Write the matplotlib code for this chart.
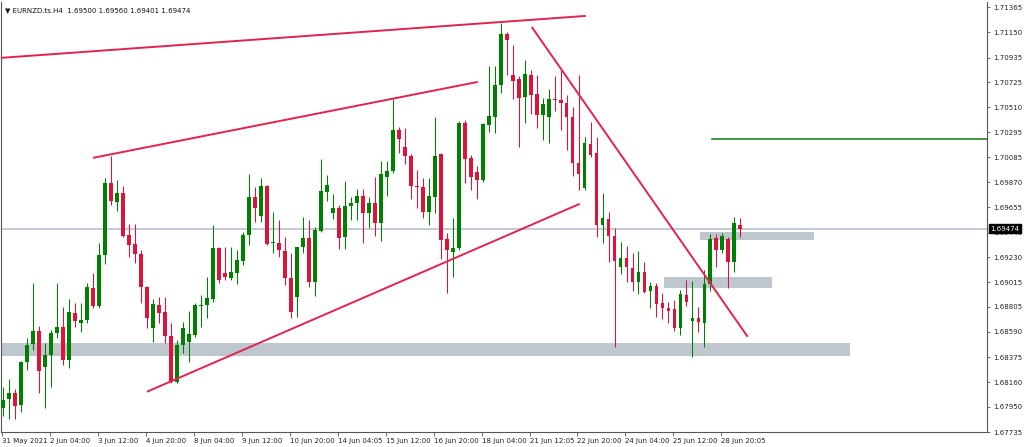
import numpy as np
import matplotlib
matplotlib.use("Agg")
import matplotlib.pyplot as plt
import matplotlib.transforms as mtransforms

# EURNZD H4 candles
opens = [1.67943, 1.68019, 1.68071, 1.67968, 1.68335, 1.68489, 1.68600, 1.68293, 1.68395, 1.68583,
         1.68634, 1.68353, 1.68754, 1.68669, 1.68694, 1.68968, 1.68814, 1.69249, 1.69864, 1.69702,
         1.69779, 1.69420, 1.69343, 1.69258, 1.68976, 1.68626, 1.68822, 1.68763, 1.68558, 1.68165,
         1.68481, 1.68506, 1.68566, 1.68814, 1.68822, 1.68874, 1.69309, 1.69096, 1.69053, 1.69096,
         1.69198, 1.69420, 1.69745, 1.69583, 1.69839, 1.69352, 1.69352, 1.69284, 1.69053, 1.68891,
         1.69318, 1.69395, 1.69019, 1.69454, 1.69787, 1.69608, 1.69651, 1.69403, 1.69668, 1.69694,
         1.69753, 1.69608, 1.69694, 1.69523, 1.69916, 1.69967, 1.70317, 1.70172, 1.70095, 1.69839,
         1.69830, 1.69617, 1.69745, 1.70112, 1.69386, 1.69275, 1.69309, 1.70377, 1.70078, 1.69958,
         1.69890, 1.70360, 1.70428, 1.70701, 1.71137, 1.70787, 1.70753, 1.70599, 1.70787, 1.70624,
         1.70445, 1.70428, 1.70582, 1.70573, 1.70548, 1.70428, 1.70035, 1.69822, 1.70197, 1.70121,
         1.69506, 1.69557, 1.69412, 1.69147, 1.69224, 1.69138, 1.69019, 1.69104, 1.68942, 1.68985,
         1.68839, 1.68797, 1.68788, 1.68626, 1.68908, 1.68686, 1.68711, 1.68669, 1.69002, 1.69395,
         1.69292, 1.69386, 1.69190, 1.69500]
highs = [1.68122, 1.68190, 1.68105, 1.68344, 1.68541, 1.69010, 1.68643, 1.68498, 1.68609, 1.69010,
         1.68805, 1.68874, 1.68839, 1.68839, 1.69010, 1.69096, 1.69352, 1.69907, 1.70095, 1.69890,
         1.69839, 1.69514, 1.69514, 1.69292, 1.68985, 1.68874, 1.68891, 1.68891, 1.68669, 1.68523,
         1.68677, 1.68771, 1.68839, 1.68908, 1.69061, 1.69506, 1.69318, 1.69318, 1.69318, 1.69292,
         1.69446, 1.69941, 1.69830, 1.69907, 1.69847, 1.69617, 1.69548, 1.69403, 1.69266, 1.69320,
         1.69574, 1.69548, 1.69489, 1.70069, 1.69933, 1.69770, 1.69676, 1.69881, 1.69745, 1.69813,
         1.69813, 1.69745, 1.69916, 1.70052, 1.70052, 1.70582, 1.70343, 1.70334, 1.70112, 1.69975,
         1.69907, 1.69907, 1.70428, 1.70121, 1.69437, 1.69565, 1.70394, 1.70402, 1.70103, 1.70010,
         1.70377, 1.70864, 1.70864, 1.71231, 1.71154, 1.71043, 1.70778, 1.70915, 1.70829, 1.70787,
         1.70590, 1.70667, 1.70778, 1.70829, 1.70616, 1.70513, 1.70787, 1.70257, 1.70385, 1.70257,
         1.69779, 1.69617, 1.69480, 1.69360, 1.69326, 1.69266, 1.69284, 1.69190, 1.69019, 1.69010,
         1.68925, 1.68848, 1.68865, 1.68950, 1.69036, 1.69027, 1.68805, 1.69121, 1.69429, 1.69429,
         1.69437, 1.69403, 1.69574, 1.69560]
lows = [1.67874, 1.67849, 1.67849, 1.67908, 1.68267, 1.68438, 1.68071, 1.67943, 1.68122, 1.68541,
        1.68310, 1.68284, 1.68634, 1.68592, 1.68669, 1.68797, 1.68797, 1.69172, 1.69676, 1.69625,
        1.69403, 1.69232, 1.69181, 1.68839, 1.68626, 1.68506, 1.68669, 1.68498, 1.68156, 1.68156,
        1.68412, 1.68335, 1.68549, 1.68634, 1.68711, 1.68848, 1.69010, 1.69036, 1.69036, 1.69002,
        1.69164, 1.69335, 1.69531, 1.69531, 1.69335, 1.69266, 1.69232, 1.68993, 1.68711, 1.68720,
        1.69266, 1.68976, 1.68899, 1.69446, 1.69711, 1.69557, 1.69301, 1.69301, 1.69548, 1.69548,
        1.69352, 1.69480, 1.69412, 1.69369, 1.69753, 1.69950, 1.70121, 1.70027, 1.69728, 1.69651,
        1.69565, 1.69506, 1.69608, 1.69215, 1.68925, 1.69061, 1.69292, 1.69864, 1.69805, 1.69728,
        1.69873, 1.70300, 1.70291, 1.70633, 1.70787, 1.70582, 1.70172, 1.70377, 1.70454, 1.70334,
        1.70232, 1.70206, 1.70479, 1.70317, 1.70146, 1.69924, 1.69805, 1.69805, 1.70086, 1.69403,
        1.69352, 1.69190, 1.68464, 1.69087, 1.69019, 1.68942, 1.68916, 1.68925, 1.68797, 1.68720,
        1.68703, 1.68669, 1.68600, 1.68566, 1.68814, 1.68378, 1.68592, 1.68464, 1.68942, 1.69147,
        1.69266, 1.68968, 1.69104, 1.69401]
closes = [1.68011, 1.68071, 1.67960, 1.68335, 1.68481, 1.68600, 1.68259, 1.68395, 1.68583, 1.68634,
          1.68353, 1.68763, 1.68686, 1.68694, 1.68976, 1.68814, 1.69249, 1.69864, 1.69711, 1.69779,
          1.69412, 1.69335, 1.69258, 1.68976, 1.68711, 1.68831, 1.68754, 1.68558, 1.68165, 1.68481,
          1.68626, 1.68575, 1.68822, 1.68822, 1.68882, 1.69309, 1.69036, 1.69061, 1.69104, 1.69207,
          1.69420, 1.69745, 1.69651, 1.69839, 1.69343, 1.69355, 1.69292, 1.69053, 1.68763, 1.69318,
          1.69395, 1.69019, 1.69463, 1.69796, 1.69847, 1.69651, 1.69395, 1.69668, 1.69694, 1.69753,
          1.69608, 1.69694, 1.69523, 1.69941, 1.69967, 1.70317, 1.70240, 1.70095, 1.69839, 1.69830,
          1.69617, 1.69753, 1.70095, 1.69378, 1.69292, 1.69309, 1.70377, 1.70069, 1.69916, 1.69890,
          1.70368, 1.70437, 1.70701, 1.71137, 1.71086, 1.70736, 1.70590, 1.70795, 1.70616, 1.70445,
          1.70539, 1.70582, 1.70573, 1.70548, 1.70428, 1.70035, 1.69941, 1.70206, 1.70103, 1.69506,
          1.69565, 1.69412, 1.69198, 1.69224, 1.69147, 1.69019, 1.69104, 1.68933, 1.68985, 1.68831,
          1.68797, 1.68771, 1.68626, 1.68916, 1.68848, 1.68711, 1.68677, 1.69002, 1.69386, 1.69292,
          1.69412, 1.69190, 1.69523, 1.69474]

time_labels = ["31 May 2021", "2 Jun 04:00", "3 Jun 12:00", "4 Jun 20:00", "8 Jun 04:00",
               "9 Jun 12:00", "10 Jun 20:00", "14 Jun 04:05", "15 Jun 12:00", "16 Jun 20:00",
               "18 Jun 04:00", "21 Jun 12:05", "22 Jun 20:00", "24 Jun 04:00", "25 Jun 12:00",
               "28 Jun 20:05"]
price_ticks = [1.71365, 1.71150, 1.70935, 1.70725, 1.70510, 1.70295, 1.70085, 1.69870, 1.69655,
               1.69440, 1.69230, 1.69015, 1.68805, 1.68590, 1.68375, 1.68160, 1.67950, 1.67735]

# drawn objects: trend lines (bar index, price), zones and level
trend_x = [(-0.45, 97.2), (15.05, 79.2), (24.05, 96.2), (88.2, 124.2)]
trend_y = [(1.70932, 1.71291), (1.70078, 1.70727), (1.68079, 1.69685), (1.71197, 1.68549)]
zone_x = [(-0.45, 141.2), (110.2, 128.2), (116.2, 135.2)]
zone_y = [(1.68387, 1.68498), (1.68968, 1.69061), (1.69378, 1.69446)]
level_start = 118.2
level_price = 1.70240
last_price = 1.69474
header = "EURNZD.ts.H4  1.69500 1.69560 1.69401 1.69474"

bull = "#008000"
bear = "#dc143c"
line_red = "#e2234f"

fig = plt.figure(figsize=(10.24, 4.47), dpi=100)
ax = fig.add_axes([1 / 1024, 15 / 447, 986 / 1024, 430 / 447])

# zones behind the candles
for (x0, x1), (y0, y1) in zip(zone_x, zone_y):
    ax.fill_between([x0, x1], y0, y1, color="#bec6ce", lw=0, zorder=1)

ax.axhline(last_price, color="#b4bcc8", lw=1.1, zorder=1.5)

idx = np.arange(len(opens))
o = np.array(opens)
c = np.array(closes)
cols = np.where(c >= o, bull, bear)
ax.vlines(idx, lows, highs, colors=cols, lw=0.75, zorder=2)
bottom = np.minimum(o, c)
height = np.maximum(np.abs(c - o), 0.00003)
ax.bar(idx, height, bottom=bottom, width=0.66, color=cols, lw=0, zorder=3)

for xs, ys in zip(trend_x, trend_y):
    ax.plot(xs, ys, color=line_red, lw=1.4, zorder=4, solid_capstyle="butt")

ax.plot([level_start, 200], [level_price, level_price], color="#1f8a1f", lw=1.2, zorder=4)

ax.set_xlim(-0.28, 164.1)
ax.set_ylim(1.67738, 1.71410)

# axes styling
for side in ["left", "bottom", "right"]:
    ax.spines[side].set_color("#555555")
    ax.spines[side].set_linewidth(0.8)
ax.spines["top"].set_visible(False)

ax.set_xticks(np.arange(0, 121, 8) - 0.17)
ax.set_xticklabels(time_labels, fontsize=5, color="#222222")
for lab in ax.get_xticklabels():
    lab.set_horizontalalignment("left")
ax.tick_params(axis="x", length=3, width=0.6, color="#555555", pad=1.5)

ax.yaxis.tick_right()
ax.set_yticks(price_ticks)
ax.set_yticklabels([f"{p:.5f}" for p in price_ticks], fontsize=5, color="#222222")
ax.tick_params(axis="y", length=2.5, width=0.6, color="#555555", pad=2)

# current price tag on the axis
tr = mtransforms.blended_transform_factory(ax.transAxes, ax.transData)
ax.text(1.0035, last_price, f"{last_price:.5f}", transform=tr, fontsize=5, color="white",
        va="center", ha="left", zorder=10, clip_on=False,
        bbox=dict(boxstyle="square,pad=0.25", facecolor="black", edgecolor="black"))

ax.text(0.004, 0.988, "\u25bc " + header, transform=ax.transAxes, fontsize=5,
        color="#111111", va="top", ha="left")

fig.savefig("out.png", dpi=100)
